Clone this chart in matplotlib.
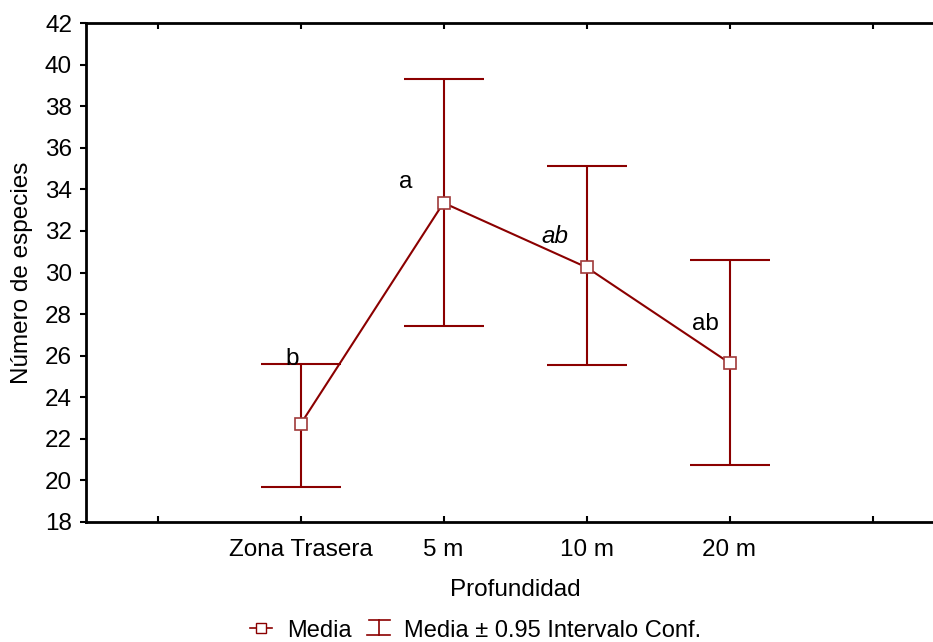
import matplotlib
matplotlib.use("Agg")
import matplotlib.pyplot as plt
from matplotlib.lines import Line2D

plt.rcParams['font.family'] = ['Liberation Sans', 'DejaVu Sans']

categories = ["Zona Trasera", "5 m", "10 m", "20 m"]
means = [22.7, 33.35, 30.25, 25.65]
lower = [19.7, 27.45, 25.55, 20.75]
upper = [25.6, 39.3, 35.1, 30.6]
letters = ["b", "a", "ab", "ab"]
letter_styles = ["normal", "normal", "italic", "normal"]
letter_pos = [(0.943, 25.55), (1.739, 34.07), (2.78, 31.42), (3.83, 27.24)]

FS = 17.5
color = '#8b0000'
fig = plt.figure(figsize=(9.33, 6.42), dpi=100)
ax = fig.add_axes([86/933, 1-522/642, 858/933, (522-23)/642])

xs = list(range(1, len(categories)+1))
yerr = [[m - l for m, l in zip(means, lower)], [u - m for m, u in zip(means, upper)]]
ax.errorbar(xs, means, yerr=yerr, fmt='none', ecolor=color, elinewidth=1.5,
            capsize=28.8, capthick=1.5, zorder=2)
ax.plot(xs, means, color=color, lw=1.5, marker='s', markersize=9,
        markerfacecolor='white', markeredgecolor='#a03a3a', markeredgewidth=1.2, zorder=3)

for (lx, ly), t, st in zip(letter_pos, letters, letter_styles):
    ax.text(lx, ly, t, ha='center', va='baseline', fontsize=FS, style=st, color='black')

ax.set_xlim(-0.5, 5.5)
ax.set_ylim(18, 42)
ax.set_yticks(range(18, 43, 2))
ax.set_xticks(range(0, 6))
ax.set_xticklabels([""] + categories + [""])
ax.tick_params(axis='y', direction='out', length=4, width=1.5, labelsize=FS, pad=6)
ax.tick_params(axis='x', direction='in', length=4, width=1.5, labelsize=FS, pad=12,
               top=True)
for s in ax.spines.values():
    s.set_linewidth(2)
ax.set_xlabel("Profundidad", fontsize=FS)
ax.set_ylabel("Número de especies", fontsize=FS)
ax.xaxis.set_label_coords((515-86)/858, (522-579)/499)
ax.yaxis.set_label_coords((33-86)/858, 0.5)

# legend (manual)
def fx(px):
    return px/933
def fy(py):
    return 1-py/642
fig.add_artist(Line2D([fx(250), fx(272)], [fy(628), fy(628)], color=color, lw=1.2))
fig.add_artist(Line2D([fx(261)], [fy(628)], color=color, marker='s', markersize=7,
                      markerfacecolor='white', markeredgecolor=color, markeredgewidth=1))
fig.text(fx(287), fy(631), "Media", fontsize=17, va='center', ha='left')
fig.add_artist(Line2D([fx(369), fx(390)], [fy(620), fy(620)], color=color, lw=1.2))
fig.add_artist(Line2D([fx(367), fx(390)], [fy(635), fy(635)], color=color, lw=1.2))
fig.add_artist(Line2D([fx(379), fx(379)], [fy(620), fy(635)], color=color, lw=1.2))
fig.text(fx(404), fy(631), "Media ± 0.95 Intervalo Conf.", fontsize=17, va='center', ha='left')

fig.savefig("out.png", dpi=100)
